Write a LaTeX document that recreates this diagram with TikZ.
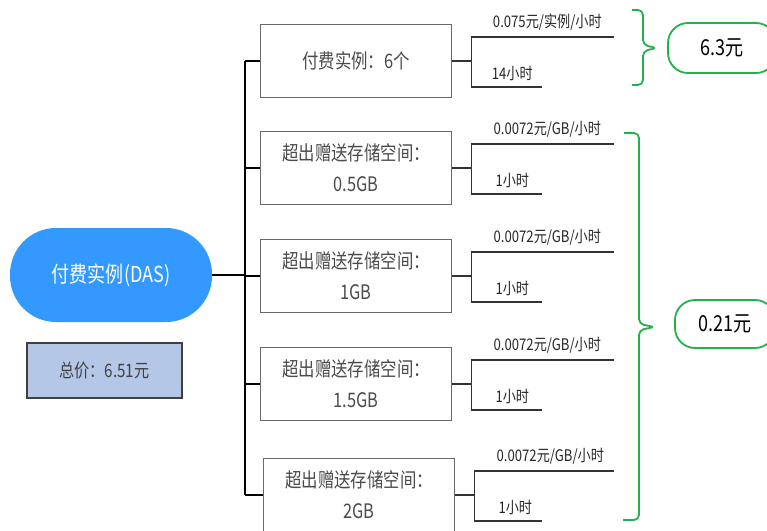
\documentclass[tikz,border=0pt]{standalone}
\usepackage{fontspec}
\newfontfamily\cjk[FakeStretch=0.82]{Noto Sans CJK SC}
\usepackage{tikz}
\usetikzlibrary{positioning}
\usetikzlibrary{calc}

\definecolor{dasblue}{RGB}{51,153,255}
\definecolor{totalfill}{RGB}{180,199,231}
\definecolor{sumgreen}{RGB}{34,177,76}
\definecolor{boxgrey}{RGB}{105,105,105}
\definecolor{textgrey}{RGB}{75,75,75}

\tikzset{
  das/.style={fill=dasblue, text=white, rounded corners=46pt, minimum width=202pt,
    minimum height=94pt, font=\cjk\fontsize{22}{26}\selectfont},
  totalbox/.style={draw=black!75, line width=1.4pt, fill=totalfill, text=black!75,
    minimum width=155pt, minimum height=55pt, font=\cjk\fontsize{18.5}{22}\selectfont},
  itembox/.style={draw=boxgrey, line width=1.6pt, fill=white, text=textgrey,
    minimum width=191pt, minimum height=73pt, align=center, inner sep=0pt,
    font=\cjk\fontsize{20}{31}\selectfont},
  spine/.style={line width=2.4pt},
  leg/.style={draw=black!80, line width=1.3pt},
  rate/.style={text=black!85, inner sep=0pt, font=\cjk\fontsize{16}{16}\selectfont},
  sumbox/.style={draw=sumgreen, line width=1.8pt, rounded corners=20pt,
    minimum width=108pt, minimum height=50pt, font=\cjk\fontsize{22}{22}\selectfont},
  bracket/.style={draw=sumgreen, line width=1.8pt, rounded corners=5pt}
}

\begin{document}
\begin{tikzpicture}[x=1pt,y=-1pt]
  \useasboundingbox (0,0) rectangle (767,530);

  \node [das] (das) at (111,275) {付费实例(DAS)};
  \node [totalbox] (total) at (104.5,370.5) {总价：6.51元};

  % price items
  \foreach \n/\x/\y/\txt/\price/\hours in {
      1/356/61/{付费实例：6个}/{0.075元/实例/小时}/{14小时},
      2/356/168/{超出赠送存储空间：\\0.5GB}/{0.0072元/GB/小时}/{1小时},
      3/356/276/{超出赠送存储空间：\\1GB}/{0.0072元/GB/小时}/{1小时},
      4/356/384/{超出赠送存储空间：\\1.5GB}/{0.0072元/GB/小时}/{1小时},
      5/359/495/{超出赠送存储空间：\\2GB}/{0.0072元/GB/小时}/{1小时}} {
    \node [itembox] (box\n) at (\x,\y) {\txt};
    \coordinate (fork\n) at ($(box\n.east)+(19,0)$);
    \coordinate (top\n) at ($(fork\n)+(0,-24)$);
    \coordinate (bot\n) at ($(fork\n)+(0,26)$);
    \coordinate (topend\n) at (614,0 |- top\n);
    \coordinate (botend\n) at (542,0 |- bot\n);
    \draw [leg] (box\n.east) -- (fork\n);
    \draw [leg] (topend\n) -- (top\n) -- (bot\n) -- (botend\n);
    \node [rate, above=6pt] (price\n) at ($(top\n)+(76,0)$) {\price};
    \node [rate, above=6pt] (hours\n) at ($(bot\n)+(41,0)$) {\hours};
  }

  % tree lines
  \coordinate (spinex) at (245,0);
  \draw [spine] (das.east) -- (das.east -| spinex);
  \draw [spine] (box1.west -| spinex) -- (box5.west -| spinex);
  \foreach \n in {1,...,5}
    \draw [spine] (box\n.west -| spinex) -- (box\n.west);

  % sums
  \node [sumbox] (sum1) at (722,48) {6.3元};
  \node [sumbox, minimum width=100pt, minimum height=48pt] (sum2) at (725,324) {0.21元};
  \draw [bracket] (632,10) -- (643,10) -- (643,45) -- (657,48) -- (643,51) -- (643,85) -- (632,85);
  \draw [bracket] (624,133) -- (639,133) -- (639,324) -- (655,327) -- (639,330) -- (639,520) -- (623,520);
\end{tikzpicture}
\end{document}
